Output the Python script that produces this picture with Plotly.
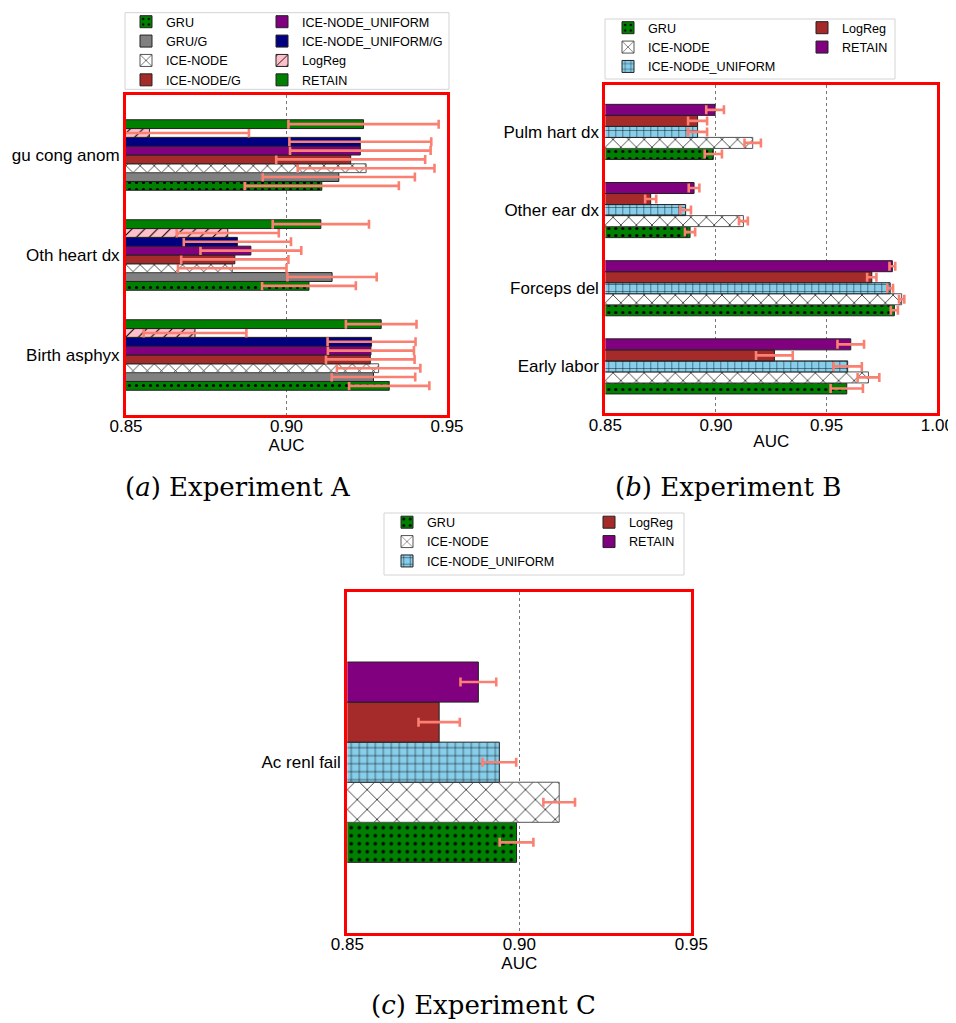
import plotly.graph_objects as go

OFF = 8  # page body margin offset
W, H = 956, 1023

# ---------------- Data ----------------
# Panel A (categories listed bottom -> top)
cats_a = ["Birth asphyx", "Oth heart dx", "gu cong anom"]
models_a = ["GRU", "GRU/G", "ICE-NODE", "ICE-NODE/G",
            "ICE-NODE_UNIFORM", "ICE-NODE_UNIFORM/G", "LogReg", "RETAIN"]
a_gru = [0.932, 0.907, 0.911]
a_gru_err = [0.0125, 0.0146, 0.024]
a_gru_g = [0.9271, 0.9142, 0.9163]
a_gru_g_err = [0.013, 0.0139, 0.0237]
a_ice = [0.9287, 0.8831, 0.9248]
a_ice_err = [0.013, 0.0169, 0.0213]
a_ice_g = [0.9261, 0.8839, 0.920]
a_ice_g_err = [0.0138, 0.0167, 0.0232]
a_uni = [0.9263, 0.8889, 0.923]
a_uni_err = [0.0134, 0.0157, 0.0219]
a_uni_g = [0.9265, 0.8847, 0.923]
a_uni_g_err = [0.0137, 0.0167, 0.0221]
a_logreg = [0.8715, 0.8817, 0.8573]
a_logreg_err = [0.016, 0.0159, 0.031]
a_retain = [0.9295, 0.9107, 0.924]
a_retain_err = [0.011, 0.015, 0.0234]

# Panel B
cats_b = ["Early labor", "Forceps del", "Other ear dx", "Pulm hart dx"]
models_bc = ["GRU", "ICE-NODE", "ICE-NODE_UNIFORM", "LogReg", "RETAIN"]
b_gru = [0.9591, 0.9806, 0.8883, 0.8988]
b_gru_err = [0.0073, 0.0016, 0.0023, 0.0039]
b_ice = [0.9689, 0.9839, 0.9124, 0.9166]
b_ice_err = [0.0049, 0.0012, 0.002, 0.0037]
b_uni = [0.9595, 0.9787, 0.8863, 0.8917]
b_uni_err = [0.0064, 0.0013, 0.0024, 0.0043]
b_logreg = [0.9264, 0.9704, 0.8705, 0.8917]
b_logreg_err = [0.0083, 0.0021, 0.0025, 0.0043]
b_retain = [0.9609, 0.9797, 0.8901, 0.8996]
b_retain_err = [0.006, 0.0013, 0.0024, 0.004]

# Panel C
cats_c = ["Ac renl fail"]
c_gru = [0.8992]
c_gru_err = [0.0049]
c_ice = [0.9116]
c_ice_err = [0.0046]
c_uni = [0.8942]
c_uni_err = [0.0049]
c_logreg = [0.8767]
c_logreg_err = [0.006]
c_retain = [0.8881]
c_retain_err = [0.0052]

ticks_ab = [0.85, 0.90, 0.95]
ticks_b = [0.85, 0.90, 0.95, 1.00]
tick_text_a = ["0.85", "0.90", "0.95"]
tick_text_b = ["0.85", "0.90", "0.95", "1.00"]

# ---------------- Styles ----------------
SALMON = "#FA8072"
SANS = "Liberation Sans"


def style(color, shape="", size=8, solidity=0.2, edge="#222222"):
    m = dict(color=color, line=dict(color=edge, width=1))
    if shape:
        m["pattern"] = dict(shape=shape, fillmode="overlay", fgcolor="black",
                            fgopacity=1, size=size, solidity=solidity)
    return m


def px_x(p):
    return (p - OFF) / W


def px_y(p):
    return 1 - (p - OFF) / H


fig = go.Figure()


def add_panel(cats, names, vals, errs, styles, xa, ya, legends):
    for name, v, e, st, lg in zip(names, vals, errs, styles, legends):
        fig.add_trace(go.Bar(
            y=cats, x=v, orientation="h", name=name,
            marker=st,
            error_x=dict(type="data", array=e, color=SALMON,
                         thickness=2.6, width=4.5),
            xaxis=xa, yaxis=ya, legend=lg,
        ))


styles_a = [
    style("green", ".", 7, 0.16),
    style("gray"),
    style("white", "x", 10, 0.13, "#555555"),
    style("brown"),
    style("purple"),
    style("navy"),
    style("pink", "/", 9, 0.12),
    style("green"),
]
add_panel(cats_a, models_a,
          [a_gru, a_gru_g, a_ice, a_ice_g, a_uni, a_uni_g, a_logreg, a_retain],
          [a_gru_err, a_gru_g_err, a_ice_err, a_ice_g_err, a_uni_err,
           a_uni_g_err, a_logreg_err, a_retain_err],
          styles_a, "x", "y",
          ["legend"] * 4 + ["legend2"] * 4)

styles_b = [
    style("green", ".", 7, 0.16),
    style("white", "x", 11, 0.12, "#555555"),
    style("skyblue", "+", 7, 0.12),
    style("brown"),
    style("purple"),
]
add_panel(cats_b, models_bc,
          [b_gru, b_ice, b_uni, b_logreg, b_retain],
          [b_gru_err, b_ice_err, b_uni_err, b_logreg_err, b_retain_err],
          styles_b, "x2", "y2",
          ["legend3"] * 3 + ["legend4"] * 2)

styles_c = [
    style("green", ".", 8, 0.16),
    style("white", "x", 14, 0.1, "#555555"),
    style("skyblue", "+", 8, 0.12),
    style("brown"),
    style("purple"),
]
add_panel(cats_c, models_bc,
          [c_gru, c_ice, c_uni, c_logreg, c_retain],
          [c_gru_err, c_ice_err, c_uni_err, c_logreg_err, c_retain_err],
          styles_c, "x3", "y3",
          ["legend5"] * 3 + ["legend6"] * 2)


def xaxis(domain, rng, tv, tt, anchor):
    return dict(domain=domain, range=rng, tickvals=tv, ticktext=tt,
                showgrid=True, gridcolor="#777777", griddash="dot",
                gridwidth=1, zeroline=False, showline=True, mirror=True,
                linecolor="red", linewidth=3, ticks="", anchor=anchor,
                automargin=False, ticklabelstandoff=-6,
                ticklabeloverflow="allow",
                tickfont=dict(family=SANS, size=17, color="black"),
                title=dict(text="AUC", standoff=2,
                           font=dict(family=SANS, size=17, color="black")))


def yaxis(domain, cats, rng, anchor):
    return dict(domain=domain, type="category", categoryorder="array",
                categoryarray=cats, range=rng, showgrid=False,
                zeroline=False, showline=True, mirror=True,
                linecolor="red", linewidth=3, ticks="", anchor=anchor,
                automargin=False,
                tickfont=dict(family=SANS, size=17, color="black"))


def legend(xpx, ypx):
    return dict(x=px_x(xpx), y=px_y(ypx), xanchor="left", yanchor="top",
                xref="paper", yref="paper", orientation="v",
                bgcolor="rgba(0,0,0,0)", borderwidth=0,
                traceorder="normal", tracegroupgap=0,
                font=dict(family=SANS, size=12.6, color="black"))


fig.update_layout(
    width=W, height=H, autosize=False,
    margin=dict(l=0, r=0, t=0, b=0, pad=0, autoexpand=False),
    paper_bgcolor="white", plot_bgcolor="white",
    barmode="group", bargap=0.295, bargroupgap=0,
    xaxis=xaxis([px_x(126), px_x(447)], [0.85, 0.95], ticks_ab, tick_text_a, "y"),
    yaxis=yaxis([px_y(415), px_y(95)], cats_a, [-0.6, 2.6], "x"),
    xaxis2=xaxis([px_x(605.3), px_x(937.3)], [0.85, 1.0], ticks_b, tick_text_b, "y2"),
    yaxis2=yaxis([px_y(413.3), px_y(85)], cats_b, [-0.6, 3.6], "x2"),
    xaxis3=xaxis([px_x(347.3), px_x(691.3)], [0.85, 0.95], ticks_ab, tick_text_a, "y3"),
    yaxis3=yaxis([px_y(932.7), px_y(591.7)], cats_c, [-0.6, 0.6], "x3"),
    legend=legend(126, 7),
    legend2=legend(262, 7),
    legend3=legend(608, 13),
    legend4=legend(802, 13),
    legend5=legend(387, 507.5),
    legend6=legend(589, 507.5),
    showlegend=True,
)

# legend frames
for (x0, y0, x1, y1) in [(125, 12.7, 449, 89.3), (605, 19, 895, 79),
                         (384, 513, 684, 575)]:
    fig.add_shape(type="rect", xref="paper", yref="paper",
                  x0=px_x(x0), x1=px_x(x1), y0=px_y(y1), y1=px_y(y0),
                  line=dict(color="#d4d4d4", width=1), fillcolor="white",
                  layer="below")

# captions
for text, cx, cy in [("(<i>a</i>) Experiment A", 237.5, 486.5),
                     ("(<i>b</i>) Experiment B", 728, 486.5),
                     ("(<i>c</i>) Experiment C", 483, 1005)]:
    fig.add_annotation(text=text, x=px_x(cx), y=px_y(cy), xref="paper",
                       yref="paper", xanchor="center", yanchor="middle",
                       showarrow=False,
                       font=dict(family="DejaVu Serif", size=26, color="black"))

fig.write_html("out.html")
